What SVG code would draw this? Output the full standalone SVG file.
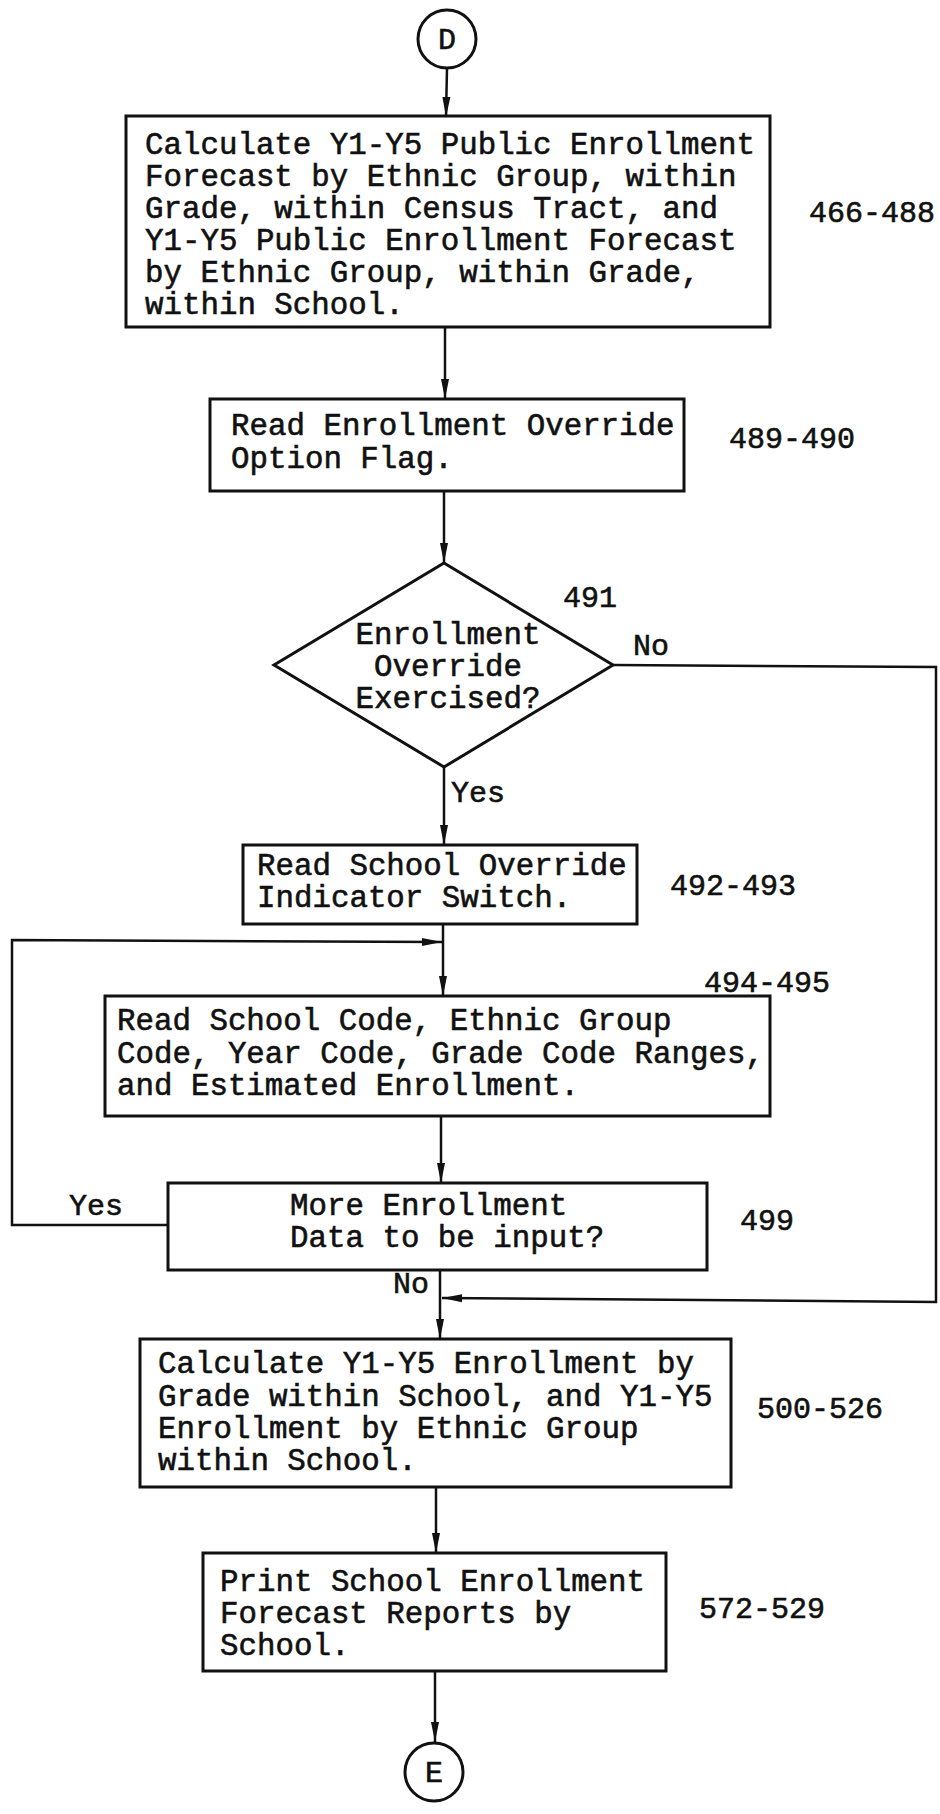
<svg xmlns="http://www.w3.org/2000/svg" width="940" height="1814" viewBox="0 0 940 1814">
<defs>
<marker id="arr" markerWidth="20" markerHeight="9" refX="20" refY="4.5" viewBox="0 0 20 9" markerUnits="userSpaceOnUse" orient="auto">
<path d="M0,0.5 L20,4.5 L0,8.5 z" fill="#111"/>
</marker>
</defs>
<style>
.bg{fill:#fff}
.box{fill:#fff;stroke:#111;stroke-width:3}
.ln{fill:none;stroke:#111;stroke-width:2.5}
.t{font-family:"Liberation Mono","DejaVu Sans Mono",monospace;font-size:30.8px;fill:#111;stroke:#111;stroke-width:0.6}
.n{font-family:"Liberation Mono","DejaVu Sans Mono",monospace;font-size:30px;fill:#111;stroke:#111;stroke-width:0.6}
.c{text-anchor:middle}
</style>
<rect class="bg" x="0" y="0" width="940" height="1814"/>
<g id="connectors">
<path class="ln" d="M447,68 L446,117" marker-end="url(#arr)"/>
<path class="ln" d="M445,327 L445,399" marker-end="url(#arr)"/>
<path class="ln" d="M444,491 L444,563" marker-end="url(#arr)"/>
<path class="ln" d="M444,767 L444,845" marker-end="url(#arr)"/>
<path class="ln" d="M443,924 L443,996" marker-end="url(#arr)"/>
<path class="ln" d="M441,1116 L441,1183" marker-end="url(#arr)"/>
<path class="ln" d="M168,1225 L12,1225 L12,940 L442,942" marker-end="url(#arr)"/>
<path class="ln" d="M440,1270 L440,1339" marker-end="url(#arr)"/>
<path class="ln" d="M613,665 L936,667 L936,1302 L442,1298" marker-end="url(#arr)"/>
<path class="ln" d="M436,1487 L436,1553" marker-end="url(#arr)"/>
<path class="ln" d="M435,1671 L435,1742" marker-end="url(#arr)"/>
<text class="n" x="451" y="802">Yes</text>
<text class="n" x="633" y="655">No</text>
<text class="n" x="69" y="1215">Yes</text>
<text class="n" x="393" y="1293">No</text>
</g>
<g id="nodeD">
<circle class="box" cx="447" cy="39" r="29"/>
<text class="n c" x="447" y="49">D</text>
</g>
<g id="node466">
<rect class="box" x="126" y="116" width="644" height="211"/>
<text class="t" x="145" y="154"><tspan x="145" y="154">Calculate Y1-Y5 Public Enrollment</tspan><tspan x="145" y="186">Forecast by Ethnic Group, within</tspan><tspan x="145" y="218">Grade, within Census Tract, and</tspan><tspan x="145" y="250">Y1-Y5 Public Enrollment Forecast</tspan><tspan x="145" y="282">by Ethnic Group, within Grade,</tspan><tspan x="145" y="314">within School.</tspan></text>
<text class="n" x="809" y="222">466-488</text>
</g>
<g id="node489">
<rect class="box" x="210" y="399" width="474" height="92"/>
<text class="t" x="231" y="435"><tspan x="231" y="435">Read Enrollment Override</tspan><tspan x="231" y="468">Option Flag.</tspan></text>
<text class="n" x="729" y="448">489-490</text>
</g>
<g id="node491">
<polygon class="box" points="444,563 613,665 444,767 274,665"/>
<text class="t c" x="448" y="644"><tspan x="448" y="644">Enrollment</tspan><tspan x="448" y="676">Override</tspan><tspan x="448" y="708">Exercised?</tspan></text>
<text class="n" x="563" y="607">491</text>
</g>
<g id="node492">
<rect class="box" x="243" y="845" width="394" height="79"/>
<text class="t" x="257" y="875"><tspan x="257" y="875">Read School Override</tspan><tspan x="257" y="907">Indicator Switch.</tspan></text>
<text class="n" x="670" y="895">492-493</text>
</g>
<g id="node494">
<rect class="box" x="105" y="996" width="665" height="120"/>
<text class="t" x="117" y="1030"><tspan x="117" y="1030">Read School Code, Ethnic Group</tspan><tspan x="117" y="1063">Code, Year Code, Grade Code Ranges,</tspan><tspan x="117" y="1095">and Estimated Enrollment.</tspan></text>
<text class="n" x="704" y="992">494-495</text>
</g>
<g id="node499">
<rect class="box" x="168" y="1183" width="539" height="87"/>
<text class="t" x="290" y="1215"><tspan x="290" y="1215">More Enrollment</tspan><tspan x="290" y="1247">Data to be input?</tspan></text>
<text class="n" x="740" y="1230">499</text>
</g>
<g id="node500">
<rect class="box" x="140" y="1339" width="591" height="148"/>
<text class="t" x="158" y="1373"><tspan x="158" y="1373">Calculate Y1-Y5 Enrollment by</tspan><tspan x="158" y="1406">Grade within School, and Y1-Y5</tspan><tspan x="158" y="1438">Enrollment by Ethnic Group</tspan><tspan x="158" y="1470">within School.</tspan></text>
<text class="n" x="757" y="1418">500-526</text>
</g>
<g id="node572">
<rect class="box" x="203" y="1553" width="463" height="118"/>
<text class="t" x="220" y="1591"><tspan x="220" y="1591">Print School Enrollment</tspan><tspan x="220" y="1623">Forecast Reports by</tspan><tspan x="220" y="1655">School.</tspan></text>
<text class="n" x="699" y="1618">572-529</text>
</g>
<g id="nodeE">
<circle class="box" cx="434" cy="1772" r="29"/>
<text class="n c" x="434" y="1782">E</text>
</g>
</svg>
